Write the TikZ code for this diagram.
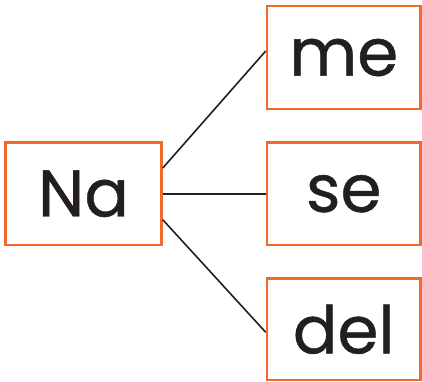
\documentclass[tikz,border=0pt]{standalone}
\usepackage{fontspec}
\setmainfont{Poppins}
\newfontfamily\wordfont{Poppins}[FakeBold=0.7]
\definecolor{boxorange}{HTML}{F26A2B}
\definecolor{inkblack}{HTML}{231F20}
\tikzset{
  wordbox/.style={draw=boxorange, line width=2.6pt, fill=white, inner sep=0pt,
    text=inkblack, font=\wordfont\fontsize{66}{66}\selectfont},
  link/.style={draw=inkblack, line width=1.6pt}
}
\begin{document}
\begin{tikzpicture}[x=1pt,y=-1pt]
\useasboundingbox (0,0) rectangle (422,381);
\node[wordbox, minimum width=156pt, minimum height=102.5pt] (na) at (83.5,193.75) {Na};
\node[wordbox, minimum width=153.5pt, minimum height=103pt] (me) at (343.75,57.5) {me};
\node[wordbox, minimum width=153.5pt, minimum height=102.5pt] (se) at (343.75,193.75) {se};
\node[wordbox, minimum width=153.5pt, minimum height=101.5pt] (del) at (343.75,329.25) {del};
\draw[link] ([yshift=25.75pt]na.east) -- ([yshift=6.5pt]me.west);
\draw[link] (na.east) -- (se.west);
\draw[link] ([yshift=-26pt]na.east) -- ([yshift=-3pt]del.west);
\end{tikzpicture}
\end{document}
